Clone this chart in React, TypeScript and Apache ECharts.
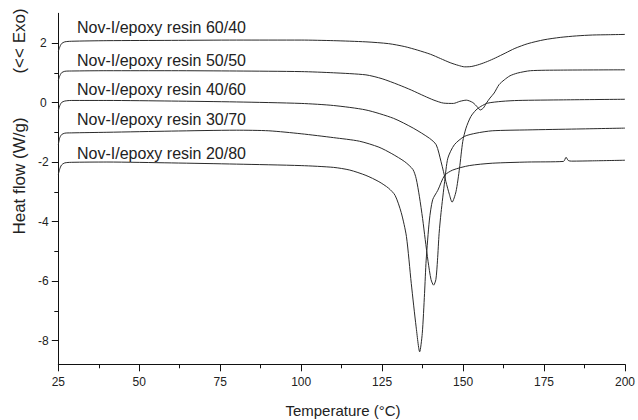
import React, { useEffect, useRef } from "react";
import * as echarts from "echarts";

// ---- Data ----
const xTicks = [25, 50, 75, 100, 125, 150, 175, 200];
const yMajorTicks = [-8, -6, -4, -2, 0, 2];
const yMinorTicks = [-7, -5, -3, -1, 1];

const seriesNames = [
  "Nov-I/epoxy resin 60/40",
  "Nov-I/epoxy resin 50/50",
  "Nov-I/epoxy resin 40/60",
  "Nov-I/epoxy resin 30/70",
  "Nov-I/epoxy resin 20/80",
];

const temp6040 = [25, 25.4, 26, 27, 29, 40, 60, 80, 100, 110, 120, 127, 132, 136, 140, 143, 146, 148.5, 150.5, 152.5, 155, 157.5, 160, 163, 166, 170, 175, 180, 185, 190, 195, 200];
const heat6040 = [1.72, 1.85, 1.98, 2.04, 2.06, 2.08, 2.09, 2.1, 2.1, 2.08, 2.04, 1.98, 1.88, 1.76, 1.62, 1.48, 1.34, 1.25, 1.2, 1.21, 1.28, 1.38, 1.5, 1.66, 1.82, 1.98, 2.11, 2.19, 2.24, 2.27, 2.28, 2.29];

const temp5050 = [25, 25.4, 26, 27, 29, 40, 60, 80, 100, 110, 120, 125, 130, 134, 138, 141, 144, 147, 149, 151, 153, 154.5, 155.3, 156.3, 157.2, 158.3, 159.6, 161.1, 162.7, 164.5, 166.8, 170.8, 180, 200];
const heat5050 = [0.74, 0.88, 1.0, 1.05, 1.06, 1.07, 1.07, 1.06, 1.04, 1.0, 0.93, 0.8, 0.6, 0.42, 0.22, 0.08, -0.02, -0.03, 0.04, 0.08, 0.0, -0.16, -0.25, -0.18, -0.02, 0.15, 0.32, 0.6, 0.76, 0.9, 0.99, 1.07, 1.09, 1.1];

const temp4060 = [25, 25.4, 26, 27, 29, 40, 60, 80, 100, 110, 120, 128.5, 134.6, 139.6, 141.7, 143.2, 144.7, 145.8, 146.6, 147.8, 148.9, 149.9, 150.9, 152.4, 154, 155.5, 157.6, 162, 167, 181, 200];
const heat4060 = [-0.28, -0.12, 0.0, 0.05, 0.07, 0.07, 0.05, 0.02, -0.03, -0.1, -0.25, -0.53, -0.86, -1.2, -1.42, -1.99, -2.66, -3.1, -3.35, -3.0, -2.21, -1.31, -0.86, -0.47, -0.25, -0.13, -0.02, 0.04, 0.07, 0.09, 0.11];

const temp3070 = [25, 25.4, 26, 27, 29, 40, 60, 80, 90, 100, 110, 118, 124, 128, 132, 134.5, 135.5, 136.5, 137.5, 138.3, 139.2, 140.1, 140.9, 141.6, 142.1, 142.6, 143.2, 144.3, 145.3, 147.3, 150.4, 154, 159, 170, 185, 200];
const heat3070 = [-1.42, -1.2, -1.08, -1.03, -1.02, -1.0, -0.96, -0.93, -0.95, -1.05, -1.18, -1.3, -1.5, -1.72, -1.99, -2.25, -2.55, -3.15, -3.9, -4.6, -5.35, -5.95, -6.14, -5.95, -5.3, -4.4, -3.7, -2.66, -1.87, -1.42, -1.14, -1.03, -0.95, -0.92, -0.89, -0.86];

const temp2080 = [25, 25.4, 26, 27, 29, 40, 60, 80, 100, 110, 115, 120, 124, 127, 129, 130.9, 132.5, 134, 135.5, 136.6, 137.4, 138.1, 138.6, 139.6, 140.6, 142.2, 144.3, 146.8, 151.9, 159, 170, 181, 181.8, 182.5, 183.5, 190, 200];
const heat2080 = [-2.42, -2.25, -2.1, -2.03, -2.01, -2.0, -2.03, -2.07, -2.12, -2.18, -2.27, -2.45, -2.66, -2.88, -3.12, -3.7, -4.5, -6.08, -7.54, -8.38, -7.76, -6.42, -5.3, -3.95, -3.27, -2.95, -2.45, -2.27, -2.12, -2.04, -2.0, -1.98, -1.84, -1.95, -1.97, -1.96, -1.94];

const allTemps = [temp6040, temp5050, temp4060, temp3070, temp2080];
const allHeats = [heat6040, heat5050, heat4060, heat3070, heat2080];

const FONT = "'Liberation Sans', Arial, sans-serif";
const INK = "#222";

export default function App() {
  const ref = useRef<HTMLDivElement>(null);

  useEffect(() => {
    if (!ref.current) return;
    const chart = echarts.init(ref.current, undefined, { renderer: "svg" });

    const labelYs = [27, 60.5, 89.5, 119.5, 153.5];

    const option: any = {
      animation: false,
      backgroundColor: "#fff",
      grid: { left: 58.3, right: 9.7, top: 13.3, bottom: 55.7, containLabel: false },
      xAxis: {
        type: "value",
        min: xTicks[0],
        max: xTicks[xTicks.length - 1],
        interval: 25,
        axisLine: { show: true, onZero: false, lineStyle: { color: "#111", width: 1 } },
        axisTick: { show: true, inside: false, length: 7, lineStyle: { color: "#111" } },
        minorTick: { show: true, splitNumber: 2, length: 4, lineStyle: { color: "#111" } },
        splitLine: { show: false },
        minorSplitLine: { show: false },
        axisLabel: { color: INK, fontSize: 12, fontFamily: FONT, margin: 12 },
      },
      yAxis: [
        {
          type: "value",
          min: -8.8,
          max: 3,
          position: "left",
          axisLine: { show: true, onZero: false, lineStyle: { color: "#111", width: 1 } },
          axisTick: { show: true, inside: false, length: 6.5, customValues: yMajorTicks, lineStyle: { color: "#111" } },
          axisLabel: {
            show: true,
            customValues: yMajorTicks,
            color: INK,
            fontSize: 12,
            fontFamily: FONT,
            align: "center",
            margin: 15,
          },
          splitLine: { show: false },
        },
        {
          type: "value",
          min: -8.8,
          max: 3,
          position: "left",
          offset: 0,
          axisLine: { show: false, onZero: false },
          axisTick: { show: true, inside: false, length: 4, customValues: yMinorTicks, lineStyle: { color: "#111" } },
          axisLabel: { show: false },
          splitLine: { show: false },
        },
      ],
      series: seriesNames.map((name, i) => ({
        name,
        type: "line",
        xAxisIndex: 0,
        yAxisIndex: 0,
        data: allTemps[i].map((t, j) => [t, allHeats[i][j]]),
        showSymbol: false,
        symbol: "none",
        smooth: 0.25,
        lineStyle: { color: "#2a2a2a", width: 1 },
        emphasis: { disabled: true },
      })),
      graphic: [
        ...seriesNames.map((name, i) => ({
          type: "text",
          x: 77,
          y: labelYs[i],
          style: {
            text: name,
            fill: INK,
            font: `16px ${FONT}`,
            textAlign: "left",
            textVerticalAlign: "middle",
          },
        })),
        {
          type: "text",
          x: 19,
          y: 41,
          rotation: Math.PI / 2,
          style: {
            text: "(<< Exo)",
            fill: INK,
            font: `17px ${FONT}`,
            textAlign: "center",
            textVerticalAlign: "middle",
          },
        },
        {
          type: "text",
          x: 19,
          y: 176,
          rotation: Math.PI / 2,
          style: {
            text: "Heat flow (W/g)",
            fill: INK,
            font: `17px ${FONT}`,
            textAlign: "center",
            textVerticalAlign: "middle",
          },
        },
        {
          type: "text",
          x: 343,
          y: 410,
          style: {
            text: "Temperature (°C)",
            fill: INK,
            font: `15px ${FONT}`,
            textAlign: "center",
            textVerticalAlign: "middle",
          },
        },
      ],
    };

    chart.setOption(option);
    return () => chart.dispose();
  }, []);

  return (
    <div
      ref={ref}
      style={{ position: "fixed", left: 0, top: 0, width: 638, height: 420, background: "#fff" }}
    />
  );
}
